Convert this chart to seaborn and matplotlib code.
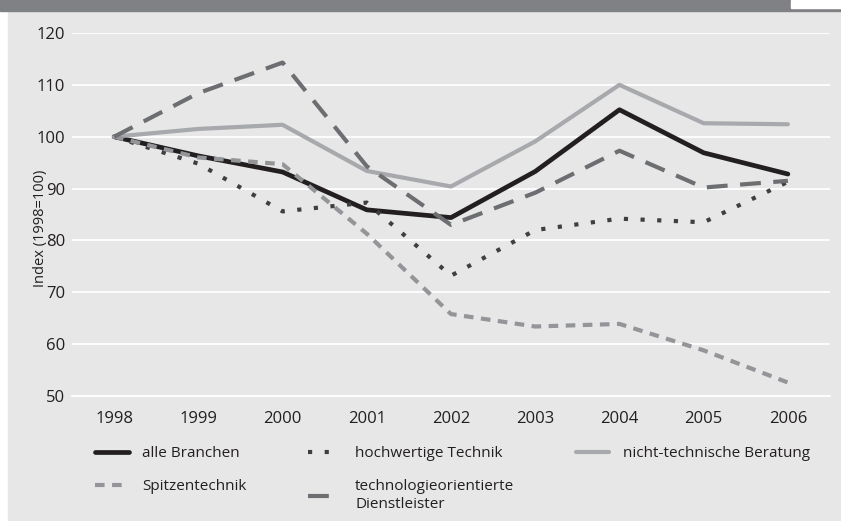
import matplotlib
matplotlib.use("Agg")
import matplotlib.pyplot as plt
from matplotlib.patches import Rectangle
import pandas as pd
import seaborn as sns

# values (index, 1998 = 100)
years = ["1998", "1999", "2000", "2001", "2002", "2003", "2004", "2005", "2006"]
alle_branchen = [100, 96.3, 93.2, 85.9, 84.4, 93.3, 105.2, 96.9, 92.8]
hochwertige_technik = [100, 94.8, 85.6, 87.3, 73.2, 82.0, 84.2, 83.5, 91.3]
nicht_technische_beratung = [100, 101.5, 102.3, 93.4, 90.4, 99.1, 110.0, 102.6, 102.4]
spitzentechnik = [100, 96.0, 94.7, 81.3, 65.8, 63.4, 63.9, 58.8, 52.6]
tech_dienstleister = [100, 108.4, 114.3, 94.3, 83.0, 89.2, 97.3, 90.2, 91.5]
y_ticks = [50, 60, 70, 80, 90, 100, 110, 120]

BG = "#e6e7e6"

sns.set_theme(style="white")
plt.rcParams["font.family"] = ["Open Sans", "DejaVu Sans"]

series = [
    ("alle Branchen", alle_branchen, "#231f20", 3.4, "-"),
    ("hochwertige Technik", hochwertige_technik, "#3f3e40", 3.0, (0, (1, 3))),
    ("nicht-technische Beratung", nicht_technische_beratung, "#a7a9ac", 3.0, "-"),
    ("Spitzentechnik", spitzentechnik, "#939598", 3.0, (0, (2.3, 1.8))),
    ("technologieorientierte\nDienstleister", tech_dienstleister, "#6d6e71", 3.0, (0, (5, 3))),
]

fig = plt.figure(figsize=(8.41, 5.21), dpi=100)
fig.patch.set_facecolor("white")
# page background, header band and the white tab in the corner
fig.patches.append(Rectangle((8 / 841, 0), 1, 1, transform=fig.transFigure,
                             color=BG, zorder=-10))
fig.patches.append(Rectangle((0, 1 - 11 / 521), 1, 11 / 521, transform=fig.transFigure,
                             color="#808184", zorder=-9))
fig.patches.append(Rectangle((791 / 841, 1 - 8 / 521), 50 / 841, 8 / 521,
                             transform=fig.transFigure, color="white", zorder=-8))

ax = fig.add_axes([72 / 841, 1 - 396 / 521, (830 - 72) / 841, (396 - 33) / 521])
ax.set_facecolor(BG)

handles = {}
for name, values, color, lw, ls in series:
    df = pd.DataFrame({"Jahr": years, "Index": values})
    sns.lineplot(data=df, x="Jahr", y="Index", ax=ax, color=color, lw=lw,
                 linestyle=ls, label=name, legend=False)
    handles[name] = ax.lines[-1]

ax.set_xlim(-0.5, len(years) - 0.5)
ax.set_ylim(50, 120)
ax.set_yticks(y_ticks)
ax.yaxis.grid(True, color="white", lw=1.3)
ax.set_axisbelow(True)
for side in ["top", "right", "left"]:
    ax.spines[side].set_visible(False)
ax.spines["bottom"].set_color("white")
ax.spines["bottom"].set_linewidth(1.3)

ax.set_xticks(range(len(years)))
ax.set_xticklabels(years)
ax.set_xticks([i - 0.5 for i in range(len(years) + 1)], minor=True)
ax.tick_params(axis="x", which="major", length=0, pad=11, labelsize=12, colors="#231f20")
ax.tick_params(axis="x", which="minor", length=11, width=1.3, color="white", direction="out")
ax.tick_params(axis="y", length=0, pad=5, labelsize=12, colors="#231f20")
ax.set_xlabel("")
ax.set_ylabel("Index (1998=100)", fontsize=10.5, color="#231f20")
ax.yaxis.set_label_coords(-0.032, 0.463)

order = ["alle Branchen", "Spitzentechnik", "hochwertige Technik",
         "technologieorientierte\nDienstleister", "nicht-technische Beratung"]
fig.legend([handles[n] for n in order], order, ncol=3, frameon=False,
           loc="upper left", bbox_to_anchor=(95 / 841, 1 - 446 / 521),
           borderaxespad=0, borderpad=0, fontsize=11, handlelength=2.2,
           handletextpad=0.9, columnspacing=4.0, labelspacing=1.2,
           labelcolor="#231f20")

fig.savefig("out.png", dpi=100, facecolor=fig.get_facecolor())
